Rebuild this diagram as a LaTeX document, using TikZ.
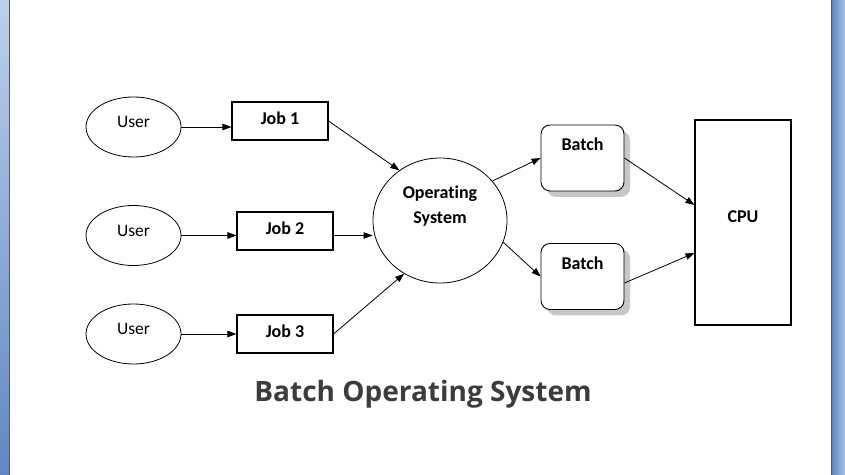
\documentclass[tikz,border=0pt]{standalone}
\usepackage{fontspec}
\setmainfont{Carlito}[Ligatures=NoCommon]
\newfontfamily\titlefont{Open Sans}
\usetikzlibrary{arrows.meta,shapes,shadows}

\definecolor{titlegray}{RGB}{60,60,60}
\definecolor{frametop}{RGB}{188,208,236}
\definecolor{framebot}{RGB}{95,135,194}

\tikzset{
  user/.style={draw,ellipse,line width=0.8bp,minimum width=95bp,minimum height=60bp,inner sep=0pt,text depth=10bp,font=\fontsize{17.5bp}{20bp}\selectfont},
  job/.style={draw,rectangle,line width=1.1bp,minimum width=96bp,minimum height=38bp,inner sep=0pt,text height=12bp,text depth=5bp,font=\bfseries\fontsize{18bp}{20bp}\selectfont},
  os/.style={draw,ellipse,line width=0.8bp,minimum width=134bp,minimum height=125bp,inner sep=0pt,align=center,text depth=31bp,font=\bfseries\fontsize{18bp}{25bp}\selectfont},
  batch/.style={draw,rectangle,rounded corners=9bp,fill=white,line width=0.9bp,minimum width=83bp,minimum height=66bp,inner xsep=0pt,inner ysep=13bp,text height=13bp,text depth=27bp,font=\bfseries\fontsize{18bp}{20bp}\selectfont,drop shadow={shadow xshift=6bp,shadow yshift=-6bp,fill=black!22,opacity=1}},
  cpu/.style={draw,rectangle,line width=1.1bp,minimum width=96bp,minimum height=205bp,inner sep=0pt,text height=12bp,text depth=11bp,font=\bfseries\fontsize{18bp}{20bp}\selectfont},
  link/.style={-{Triangle[length=9bp,width=6.5bp]},line width=0.8bp}
}

\begin{document}
\begin{tikzpicture}
\useasboundingbox (0bp,0bp) rectangle (845bp,475bp);
% window frame
\shade [top color=frametop,bottom color=framebot] (0bp,0bp) rectangle (9bp,475bp);
\draw [gray!70!black,line width=1bp] (9.5bp,0bp) -- (9.5bp,475bp);
\shade [left color=framebot,right color=frametop!80!framebot] (832bp,0bp) rectangle (845bp,475bp);
\draw [gray!70!black,line width=1bp] (831.5bp,0bp) -- (831.5bp,475bp);

\node (U1) at (133.5bp,348bp) [user] {User};
\node (U2) at (133.5bp,239.5bp) [user] {User};
\node (U3) at (133.5bp,141bp) [user] {User};
\node (J1) at (280bp,354bp) [job] {Job 1};
\node (J2) at (285bp,244bp) [job] {Job 2};
\node (J3) at (285bp,141bp) [job] {Job 3};
\node (OS) at (440bp,254.5bp) [os] {Operating\\System};
\node (B1) at (582.5bp,317bp) [batch] {Batch};
\node (B2) at (582.5bp,198.5bp) [batch] {Batch};
\node (CPU) at (743bp,252.5bp) [cpu] {CPU};
\node (T) at (423bp,73bp) [anchor=base,text=titlegray,font=\titlefont\bfseries\fontsize{28bp}{32bp}\selectfont] {Batch Operating System};

\draw [link] (U1) -- (U1 -| J1.west);
\draw [link] (U2) -- (U2 -| J2.west);
\draw [link] (U3) -- (U3 -| J3.west);
\draw [link] (J1.east) -- (OS.129);
\draw [link] (U2 -| J2.east) -- (U2 -| OS.west);
\draw [link] (J3.east) -- (OS.236);
\draw [link] (OS.37) -- (B1.west);
\draw [link] (OS.-19) -- (B2.west);
\draw [link] (B1.east) -- ([yshift=17.5bp]CPU.west);
\draw [link] ([yshift=-6.5bp]B2.east) -- ([yshift=-30.5bp]CPU.west);
\end{tikzpicture}
\end{document}
